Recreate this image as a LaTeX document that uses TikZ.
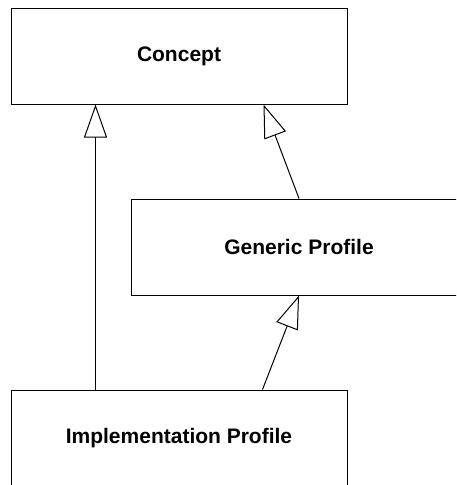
\documentclass[tikz,border=0pt]{standalone}
\usepackage{fontspec}
\setmainfont{Liberation Sans}
\usetikzlibrary{arrows.meta}
\begin{document}
\begin{tikzpicture}
  [x=1pt,y=-1pt,line width=1pt,every node/.style={draw,rectangle,minimum width=336pt,minimum height=96pt,font=\bfseries\fontsize{21}{25}\selectfont}]
  \tikzstyle{isa} = [-{Triangle[open,length=33pt,width=23pt]}]
  \useasboundingbox (0,0) rectangle (456,485);
  \clip (0,0) rectangle (456,485);
  \fill[white] (0,0) rectangle (456,485);
  \node (concept) at (179,56) {Concept};
  \node (generic) at (299,247) {Generic Profile};
  \node (impl) at (179,438) {Implementation Profile};
  \draw[isa] ([xshift=85pt]impl.north west) -- ([xshift=85pt]concept.south west);
  \draw[isa] (generic.north) -- ([xshift=-84pt]concept.south east);
  \draw[isa] ([xshift=-85pt]impl.north east) -- (generic.south);
\end{tikzpicture}
\end{document}
